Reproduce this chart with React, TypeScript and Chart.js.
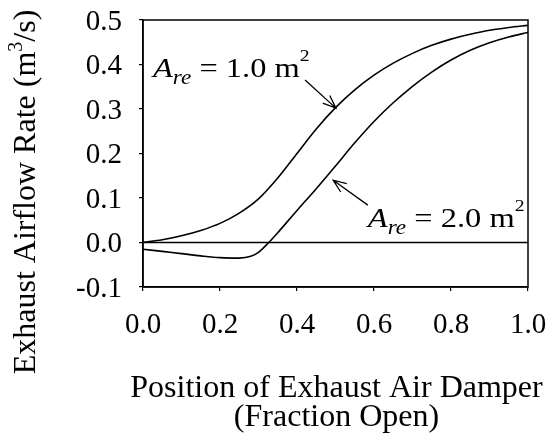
import React, { useEffect, useRef } from 'react';
import { Chart, registerables } from 'chart.js';

Chart.register(...registerables);

// ---- data ----
const damperPosition1 = [0, 0.05, 0.1, 0.15, 0.2, 0.25, 0.3, 0.35, 0.4, 0.45, 0.5, 0.55, 0.6, 0.65, 0.7, 0.75, 0.8, 0.85, 0.9, 0.95, 1.0];
const airflowArea1 = [0.0, 0.006, 0.015, 0.027, 0.043, 0.066, 0.098, 0.145, 0.2, 0.255, 0.303, 0.343, 0.376, 0.403, 0.425, 0.443, 0.457, 0.468, 0.477, 0.483, 0.488];

const damperPosition2 = [0, 0.05, 0.1, 0.15, 0.2, 0.25, 0.28, 0.3, 0.32, 0.35, 0.4, 0.45, 0.5, 0.55, 0.6, 0.65, 0.7, 0.75, 0.8, 0.85, 0.9, 0.95, 1.0];
const airflowArea2 = [-0.015, -0.02, -0.025, -0.03, -0.034, -0.035, -0.031, -0.022, -0.006, 0.022, 0.072, 0.121, 0.172, 0.224, 0.272, 0.314, 0.351, 0.383, 0.41, 0.432, 0.449, 0.462, 0.472];

const zeroLineX = [0, 1];
const zeroLineY = [0, 0];

const X_MIN = 0;
const X_MAX = 1;
const X_STEP = 0.2;
const Y_MIN = -0.1;
const Y_MAX = 0.5;
const Y_STEP = 0.1;

const X_TITLE = ['Position of Exhaust Air Damper', '(Fraction Open)'];
const Y_TITLE_MAIN = 'Exhaust Airflow Rate (m';
const Y_TITLE_SUP = '3';
const Y_TITLE_END = '/s)';

// annotation labels (text anchor in data coords) and their arrows
const annotationValues = ['1.0', '2.0'];
const annotationX = [0.026, 0.584];
const annotationY = [0.372, 0.035];
const arrowFromX = [0.421, 0.584];
const arrowFromY = [0.365, 0.084];
const arrowToX = [0.501, 0.494];
const arrowToY = [0.302, 0.14];

const FONT = "'Liberation Serif', 'Times New Roman', serif";

type Seg = { t: string; size: number; italic?: boolean; dy?: number };

function segFont(s: Seg) {
  return `${s.italic ? 'italic ' : ''}${s.size}px ${FONT}`;
}

function drawRich(ctx: CanvasRenderingContext2D, segs: Seg[], x: number, y: number, sx: number, align: 'left' | 'center') {
  let w = 0;
  for (const s of segs) {
    ctx.font = segFont(s);
    w += ctx.measureText(s.t).width;
  }
  ctx.save();
  ctx.translate(x, y);
  ctx.scale(sx, 1);
  ctx.textAlign = 'left';
  ctx.textBaseline = 'alphabetic';
  let cx = align === 'center' ? -w / 2 : 0;
  for (const s of segs) {
    ctx.font = segFont(s);
    ctx.fillText(s.t, cx, s.dy || 0);
    cx += ctx.measureText(s.t).width;
  }
  ctx.restore();
}

const fmt = (v: any) => {
  const n = Number(v);
  return (Math.abs(n) < 1e-9 ? 0 : n).toFixed(1);
};

const decorPlugin = {
  id: 'decor',
  afterDraw(chart: any) {
    const ctx: CanvasRenderingContext2D = chart.ctx;
    const { left, right, top, bottom } = chart.chartArea;
    const xs = chart.scales.x;
    const ys = chart.scales.y;
    ctx.save();
    ctx.fillStyle = '#000';
    ctx.strokeStyle = '#000';

    // box
    ctx.lineWidth = 1.5;
    ctx.strokeRect(left, top, right - left, bottom - top);

    // x title
    const cxT = (left + right) / 2 + 1;
    ctx.font = `32px ${FONT}`;
    ctx.textAlign = 'center';
    ctx.textBaseline = 'alphabetic';
    ctx.fillText(X_TITLE[0], cxT, bottom + 110);
    ctx.fillText(X_TITLE[1], cxT, bottom + 139);

    // y title
    ctx.save();
    ctx.translate(35, 192);
    ctx.rotate(-Math.PI / 2);
    drawRich(ctx, [
      { t: Y_TITLE_MAIN, size: 32 },
      { t: Y_TITLE_SUP, size: 20, dy: -13 },
      { t: Y_TITLE_END, size: 32 },
    ], 0, 0, 1, 'center');
    ctx.restore();

    // annotations
    for (let i = 0; i < annotationValues.length; i++) {
      const px = xs.getPixelForValue(annotationX[i]);
      const py = ys.getPixelForValue(annotationY[i]);
      drawRich(ctx, [
        { t: 'A', size: 28, italic: true },
        { t: 're', size: 20, italic: true, dy: 7 },
        { t: ` = ${annotationValues[i]} m`, size: 28 },
        { t: '2', size: 17, dy: -16 },
      ], px, py, 1.16, 'left');

      const x0 = xs.getPixelForValue(arrowFromX[i]);
      const y0 = ys.getPixelForValue(arrowFromY[i]);
      const x1 = xs.getPixelForValue(arrowToX[i]);
      const y1 = ys.getPixelForValue(arrowToY[i]);
      ctx.lineWidth = 1.3;
      ctx.beginPath();
      ctx.moveTo(x0, y0);
      ctx.lineTo(x1, y1);
      const ang = Math.atan2(y1 - y0, x1 - x0);
      const hl = 14;
      const ha = 0.38;
      ctx.moveTo(x1 - hl * Math.cos(ang - ha), y1 - hl * Math.sin(ang - ha));
      ctx.lineTo(x1, y1);
      ctx.lineTo(x1 - hl * Math.cos(ang + ha), y1 - hl * Math.sin(ang + ha));
      ctx.stroke();
    }
    ctx.restore();
  },
};

export default function App() {
  const ref = useRef<HTMLCanvasElement | null>(null);
  useEffect(() => {
    if (!ref.current) return;
    const toPts = (xs: number[], ys: number[]) => xs.map((x, i) => ({ x, y: ys[i] }));
    const lineStyle = {
      borderColor: '#000',
      borderWidth: 1.6,
      pointRadius: 0,
      fill: false,
      cubicInterpolationMode: 'monotone' as const,
    };
    const chart = new Chart(ref.current, {
      type: 'line',
      data: {
        datasets: [
          { label: 'zero', data: toPts(zeroLineX, zeroLineY), ...lineStyle, borderWidth: 1.5 },
          { label: 'A_re = 1.0 m2', data: toPts(damperPosition1, airflowArea1), ...lineStyle },
          { label: 'A_re = 2.0 m2', data: toPts(damperPosition2, airflowArea2), ...lineStyle },
        ],
      },
      options: {
        animation: false,
        responsive: true,
        maintainAspectRatio: false,
        layout: { padding: { left: 0, top: 20, right: 23, bottom: 0 } },
        plugins: { legend: { display: false }, tooltip: { enabled: false } },
        scales: {
          x: {
            type: 'linear',
            min: X_MIN,
            max: X_MAX,
            afterFit: (s: any) => { s.height = 153; s.paddingLeft = 0; s.paddingRight = 0; },
            ticks: {
              stepSize: X_STEP,
              color: '#000',
              font: { family: FONT, size: 29 },
              padding: 17,
              maxRotation: 0,
              callback: fmt,
            },
            grid: { drawOnChartArea: false, drawTicks: true, tickLength: 4, color: '#000', lineWidth: 1.2 },
            border: { display: true, color: '#000', width: 1.5 },
          },
          y: {
            type: 'linear',
            min: Y_MIN,
            max: Y_MAX,
            afterFit: (s: any) => { s.width = 143; s.paddingTop = 0; s.paddingBottom = 0; },
            ticks: {
              stepSize: Y_STEP,
              color: '#000',
              font: { family: FONT, size: 29 },
              padding: 17,
              labelOffset: 2,
              callback: fmt,
            },
            grid: { drawOnChartArea: false, drawTicks: true, tickLength: 4, color: '#000', lineWidth: 1.2 },
            border: { display: true, color: '#000', width: 1.5 },
          },
        },
      },
      plugins: [decorPlugin],
    });
    return () => chart.destroy();
  }, []);
  return (
    <div style={{ position: 'absolute', left: 0, top: 0, width: 551, height: 440, background: '#fff' }}>
      <canvas ref={ref} />
    </div>
  );
}
